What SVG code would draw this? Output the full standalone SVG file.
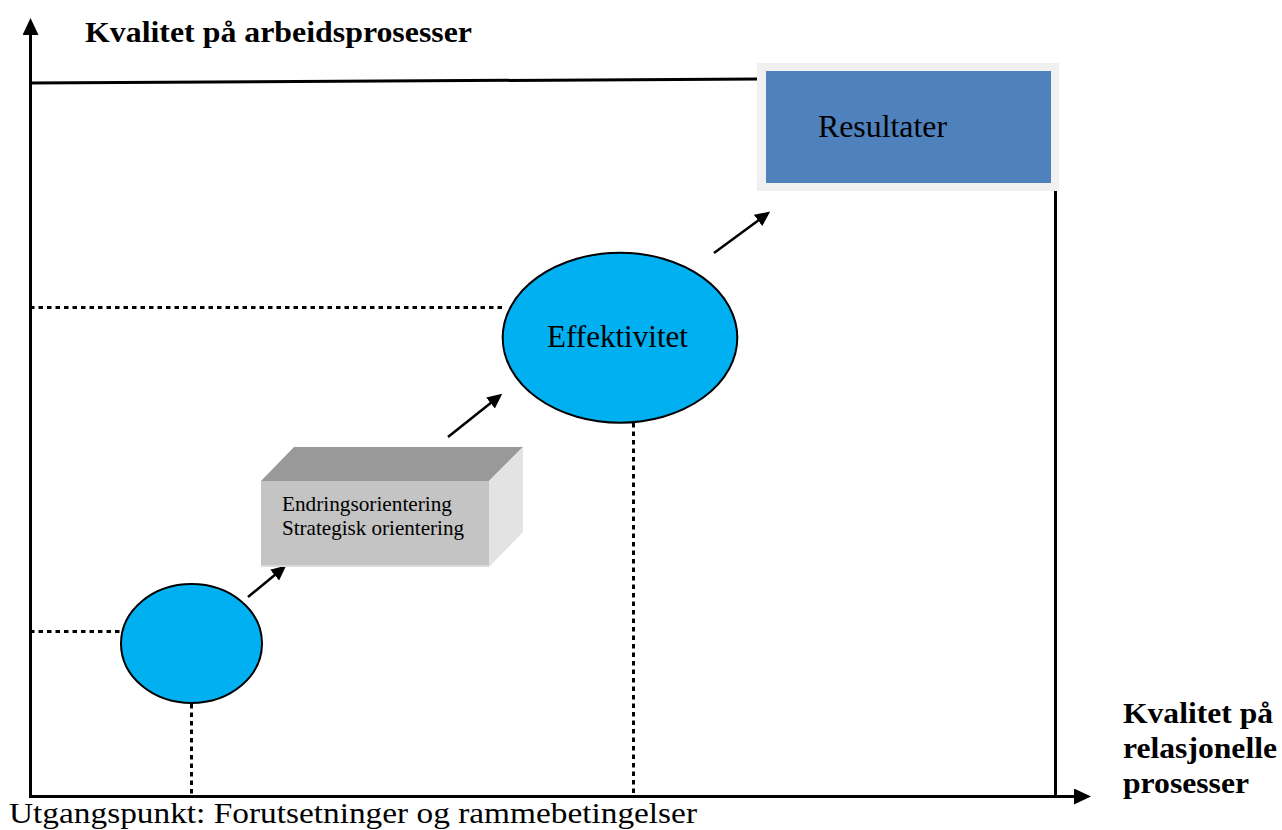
<svg xmlns="http://www.w3.org/2000/svg" width="1282" height="830" viewBox="0 0 1282 830">
  <style>
    .serif { font-family: "Liberation Serif", "Times New Roman", serif; fill: #000; }
    .bold { font-weight: bold; }
    .frame { stroke: #000; stroke-width: 3; fill: none; }
    .dotted { stroke: #000; stroke-width: 3; fill: none; stroke-dasharray: 4.5 4; }
    .flow { stroke: #000; stroke-width: 2.5; fill: none; marker-end: url(#flowHead); }
    .bubble { fill: #00b0f0; stroke: #000; stroke-width: 2; }
  </style>
  <defs>
    <marker id="flowHead" viewBox="0 0 15 14" refX="1" refY="7" markerWidth="15" markerHeight="14" markerUnits="userSpaceOnUse" orient="auto">
      <path d="M0,0 L15,7 L0,14 z" fill="#000"/>
    </marker>
    <marker id="axisHead" viewBox="0 0 17 16" refX="1" refY="8" markerWidth="17" markerHeight="16" markerUnits="userSpaceOnUse" orient="auto">
      <path d="M0,0 L17,8 L0,16 z" fill="#000"/>
    </marker>
  </defs>

  <rect width="1282" height="830" fill="#fff"/>

  <!-- axes and outer frame -->
  <g id="axes">
    <line class="frame" x1="30.5" y1="797" x2="30.5" y2="34" marker-end="url(#axisHead)"/>
    <line class="frame" x1="29" y1="796.5" x2="1075" y2="796.5" marker-end="url(#axisHead)"/>
    <line class="frame" x1="30" y1="83" x2="759" y2="79"/>
    <line class="frame" x1="1055.5" y1="187" x2="1055.5" y2="796"/>
    <text class="serif bold" x="85" y="42" font-size="30" textLength="387" lengthAdjust="spacingAndGlyphs">Kvalitet på arbeidsprosesser</text>
    <text class="serif bold" x="1123" y="723" font-size="29" textLength="150" lengthAdjust="spacingAndGlyphs">Kvalitet på</text>
    <text class="serif bold" x="1123" y="758" font-size="29" textLength="154" lengthAdjust="spacingAndGlyphs">relasjonelle</text>
    <text class="serif bold" x="1123" y="793" font-size="29" textLength="126" lengthAdjust="spacingAndGlyphs">prosesser</text>
    <text class="serif" x="9" y="823" font-size="29.5" textLength="688" lengthAdjust="spacingAndGlyphs">Utgangspunkt: Forutsetninger og rammebetingelser</text>
  </g>

  <!-- dotted guide lines and flow arrows -->
  <g id="connectors">
    <line class="dotted" x1="30" y1="631.5" x2="121" y2="631.5"/>
    <line class="dotted" x1="191.5" y1="704" x2="191.5" y2="796"/>
    <line class="dotted" x1="30" y1="307.5" x2="503" y2="307.5"/>
    <line class="dotted" x1="633.5" y1="423" x2="633.5" y2="796"/>
    <line class="flow" x1="248" y1="597" x2="275.4" y2="574.5"/>
    <line class="flow" x1="448" y1="437" x2="491.3" y2="402.4"/>
    <line class="flow" x1="714" y1="253" x2="758.9" y2="219.9"/>
  </g>

  <!-- starting point -->
  <g id="node-start">
    <ellipse class="bubble" cx="191.5" cy="643.5" rx="70.5" ry="59.5"/>
  </g>

  <!-- orientation block -->
  <g id="node-orientering">
    <polygon points="261,481 294,447 523,447 489,481" fill="#999999"/>
    <polygon points="489,481 523,447 523,532 489,567" fill="#e3e3e3"/>
    <rect x="261" y="481" width="228" height="86" fill="#c4c4c4"/>
    <line x1="261" y1="566" x2="489" y2="566" stroke="#dadada" stroke-width="2"/>
    <text class="serif" x="282" y="511" font-size="21.5" textLength="170" lengthAdjust="spacingAndGlyphs">Endringsorientering</text>
    <text class="serif" x="282" y="535" font-size="21.5" textLength="182" lengthAdjust="spacingAndGlyphs">Strategisk orientering</text>
  </g>

  <!-- efficiency -->
  <g id="node-effektivitet">
    <ellipse class="bubble" cx="620" cy="337.7" rx="117.3" ry="85"/>
    <text class="serif" x="547" y="347" font-size="31" textLength="141" lengthAdjust="spacingAndGlyphs">Effektivitet</text>
  </g>

  <!-- results -->
  <g id="node-resultater">
    <rect x="757" y="63" width="302" height="128" fill="#f0f0f0"/>
    <rect x="766" y="71" width="285" height="112" fill="#4f81bd"/>
    <text class="serif" x="818" y="137" font-size="31" textLength="129" lengthAdjust="spacingAndGlyphs">Resultater</text>
  </g>
</svg>
